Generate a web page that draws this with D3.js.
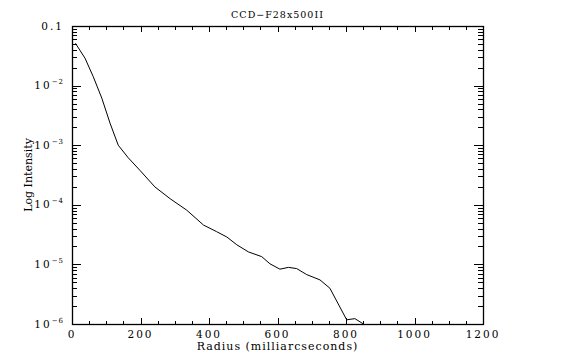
<!DOCTYPE html>
<html>
<head>
<meta charset="utf-8">
<script src="https://cdn.jsdelivr.net/npm/d3@7"></script>
<style>
  body { margin: 0; background: #fff; }
  text { font-family: "DejaVu Serif", serif; fill: #000; }
</style>
</head>
<body>
<div id="root"></div>
<script>
const radius = [10, 38, 62, 87, 111, 135, 164, 198, 242, 287, 335, 384, 422, 452, 481, 515, 554, 578, 607, 632, 656, 685, 724, 753, 802, 826, 851];
const logIntensity = [-1.29, -1.54, -1.85, -2.21, -2.63, -3.0, -3.21, -3.42, -3.70, -3.90, -4.09, -4.34, -4.45, -4.54, -4.67, -4.79, -4.87, -4.99, -5.08, -5.05, -5.07, -5.17, -5.26, -5.40, -5.93, -5.91, -6.0];
const xTicks = [0, 200, 400, 600, 800, 1000, 1200];
const yTicks = [1e-6, 1e-5, 1e-4, 1e-3, 1e-2, 1e-1];
const yTickLabels = [["10", "-6"], ["10", "-5"], ["10", "-4"], ["10", "-3"], ["10", "-2"], ["0.1", ""]];

const outerWidth = 580;
const outerHeight = 354;
const margin = { top: 26, right: 97, bottom: 30, left: 72 };
const width = outerWidth - margin.left - margin.right;
const height = outerHeight - margin.top - margin.bottom;

let scaleX = d3.scaleLinear().domain([0, 1200]).range([0, width]);
let scaleY = d3.scaleLog().domain([1e-6, 0.1]).range([height, 0]);

let svg = d3.select("#root")
            .append("svg")
            .attr("width", outerWidth)
            .attr("height", outerHeight);

let chart = svg.append("g")
               .attr("transform", `translate(${margin.left}, ${margin.top})`);

// ticks inside the frame, mirrored on all four sides
let minorX = d3.range(0, 1201, 50);
let minorY = [];
for (let e = -6; e < -1; e++) {
    for (let m = 2; m <= 9; m++) minorY.push(m * Math.pow(10, e));
}

let ticks = chart.append("g")
                 .attr("stroke", "#000")
                 .attr("stroke-width", 1)
                 .attr("shape-rendering", "crispEdges");

minorX.forEach(v => {
    let len = (v % 200 == 0) ? 6 : 3.5;
    let x = Math.round(scaleX(v)) + 0.5;
    ticks.append("line").attr("x1", x).attr("x2", x).attr("y1", height).attr("y2", height - len);
    ticks.append("line").attr("x1", x).attr("x2", x).attr("y1", 0).attr("y2", len);
});

yTicks.concat(minorY).forEach(v => {
    let major = yTicks.includes(v);
    let len = major ? 9 : 5;
    let y = Math.round(scaleY(v)) + 0.5;
    ticks.append("line").attr("x1", 0).attr("x2", len).attr("y1", y).attr("y2", y);
    ticks.append("line").attr("x1", width).attr("x2", width - len).attr("y1", y).attr("y2", y);
});

chart.append("rect")
     .attr("x", 0.5).attr("y", 0.5)
     .attr("width", width).attr("height", height)
     .attr("fill", "none")
     .attr("stroke", "#000")
     .attr("stroke-width", 1.3);

// tick labels
chart.selectAll(".xlab")
     .data(xTicks)
     .enter().append("text")
     .attr("class", "xlab")
     .attr("x", d => scaleX(d))
     .attr("y", height + 14)
     .attr("text-anchor", "middle")
     .style("font-size", "10.5px")
     .style("letter-spacing", "2px")
     .text(d => d);

let ylab = chart.selectAll(".ylab")
     .data(yTicks)
     .enter().append("text")
     .attr("class", "ylab")
     .attr("x", -8)
     .attr("y", d => scaleY(d) + 3.5)
     .attr("text-anchor", "end")
     .style("font-size", "10.5px")
     .style("letter-spacing", "2px");

ylab.append("tspan").text((d, i) => yTickLabels[i][0]);
ylab.append("tspan")
    .attr("dy", -5)
    .style("font-size", "7px")
    .style("letter-spacing", "1px")
    .text((d, i) => yTickLabels[i][1] ? "\u2212" + yTickLabels[i][1].slice(1) : "");

// curve
let line = d3.line()
             .x((d, i) => scaleX(d))
             .y((d, i) => scaleY(Math.pow(10, logIntensity[i])));

chart.append("path")
     .datum(radius)
     .attr("d", line)
     .attr("fill", "none")
     .attr("stroke", "#000")
     .attr("stroke-width", 1);

// titles
svg.append("text")
   .attr("x", margin.left + width / 2)
   .attr("y", 18)
   .attr("text-anchor", "middle")
   .style("font-size", "9.5px")
   .style("letter-spacing", "1px")
   .text("CCD\u2212F28x500II");

svg.append("text")
   .attr("x", margin.left + width / 2)
   .attr("y", 350)
   .attr("text-anchor", "middle")
   .style("font-size", "11px")
   .style("letter-spacing", "1px")
   .text("Radius (milliarcseconds)");

svg.append("text")
   .attr("transform", `translate(32, ${margin.top + height / 2}) rotate(-90)`)
   .attr("text-anchor", "middle")
   .style("font-size", "11px")
   .text("Log Intensity");
</script>
</body>
</html>
